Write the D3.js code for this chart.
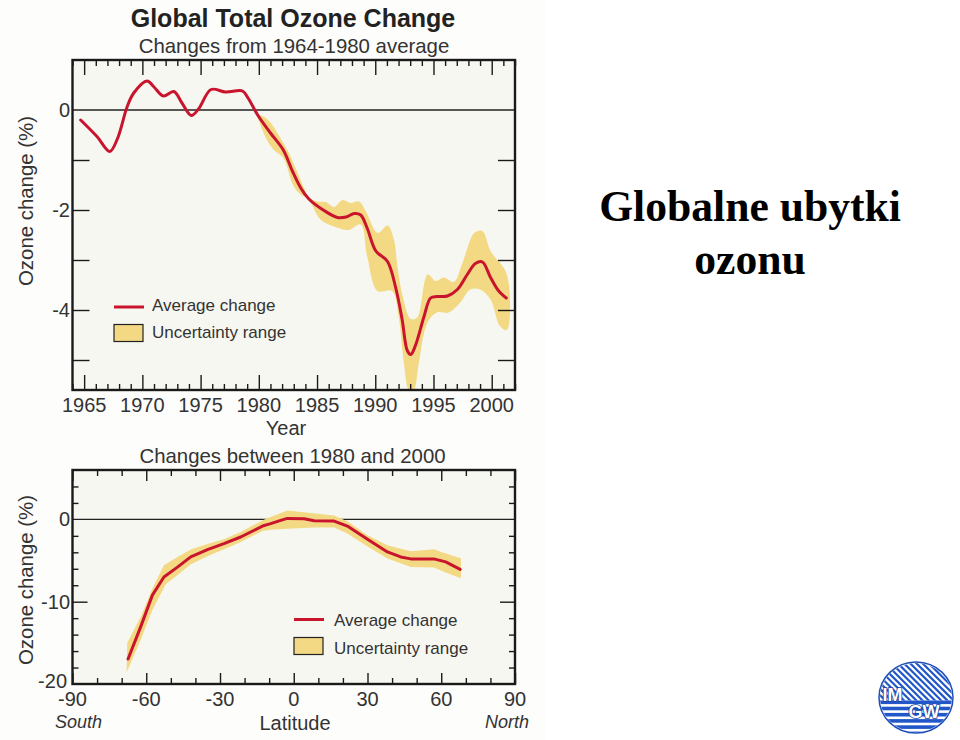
<!DOCTYPE html>
<html><head><meta charset="utf-8">
<script src="https://cdn.jsdelivr.net/npm/d3@7/dist/d3.min.js"></script>
<style>html,body{margin:0;padding:0;background:#fff}svg{display:block}text{font-family:"Liberation Sans",Arial,sans-serif}</style>
</head><body><svg id="c" width="960" height="740"></svg>
<script>
// Top panel: time series
const avgYears=[1964.7,1966.1,1967.2,1967.85,1968.7,1969.26,1970.4,1971,1971.8,1972.7,1973.4,1974.2,1974.85,1975.9,1977.15,1978.6,1979.1,1979.9,1981,1982.1,1982.9,1983.6,1984.3,1985.6,1986.75,1987.5,1988.2,1988.75,1989.3,1990.05,1991.05,1991.75,1992.3,1992.75,1993.05,1993.45,1994.2,1994.75,1995.3,1996.2,1997.05,1997.9,1998.6,1999.2,1999.9,2000.6,2001.25];
const avgChange=[-0.2,-0.53,-0.83,-0.58,0.07,0.34,0.58,0.46,0.28,0.37,0.14,-0.11,0.03,0.41,0.36,0.38,0.23,-0.1,-0.46,-0.8,-1.23,-1.56,-1.78,-2.01,-2.15,-2.14,-2.07,-2.1,-2.36,-2.82,-3.03,-3.55,-4.18,-4.81,-4.89,-4.71,-4.12,-3.76,-3.73,-3.72,-3.59,-3.29,-3.07,-3.04,-3.35,-3.62,-3.76];
const upperYears=[1979.9,1980.4,1981,1981.7,1982.45,1983.15,1983.85,1984.3,1985.05,1985.75,1986.45,1987.2,1987.9,1988.6,1989.2,1990.2,1991.05,1991.6,1991.9,1992.35,1993.05,1993.6,1994.5,1995.2,1995.9,1996.75,1997.5,1998.5,1999.2,1999.9,2001.3];
const upperChange=[-0.1,-0.13,-0.25,-0.5,-0.8,-1.16,-1.54,-1.75,-1.83,-1.84,-1.94,-1.8,-1.86,-1.83,-2.03,-2.46,-2.31,-2.59,-3.12,-3.72,-4.18,-4.15,-3.29,-3.42,-3.35,-3.44,-3.05,-2.46,-2.42,-2.82,-3.29];
const lowerYears=[1979.9,1980.7,1981.3,1982.1,1983,1983.6,1984.3,1985.3,1986.45,1987.7,1988.75,1989.3,1990.2,1991.45,1992,1992.45,1992.9,1993.3,1993.75,1994.5,1995.3,1996.3,1997.3,1998.15,1999,1999.9,2000.7,2001.3];
const lowerChange=[-0.15,-0.6,-0.8,-0.96,-1.53,-1.69,-1.8,-2.19,-2.33,-2.4,-2.29,-2.92,-3.62,-3.62,-4.12,-5.04,-5.6,-5.6,-5.04,-4.24,-4.05,-4.05,-3.85,-3.59,-3.59,-3.79,-4.32,-4.4];
const yearTicks=[1965,1970,1975,1980,1985,1990,1995,2000];
const topValueTicks=[0,-2,-4];
// Bottom panel: latitude profile
const avgLat=[-67.4,-62.2,-57.5,-52.8,-47.3,-41.9,-35.1,-28.4,-21.6,-12.7,-9.4,-5.3,-2.6,4.2,8.3,16.4,21.8,30,38.1,43.5,47.6,57,61.8,67.7];
const avgLatChange=[-16.97,-13,-9.2,-7,-5.8,-4.56,-3.67,-2.94,-2.14,-0.81,-0.52,-0.12,0.12,0.08,-0.16,-0.2,-0.81,-2.42,-3.95,-4.56,-4.8,-4.8,-5.16,-6.08];
const upperLat=[-67.7,-62.2,-57.5,-52.8,-47.3,-41.9,-35.1,-28.4,-21.6,-12.7,-9.4,-2.6,4.2,16.4,21.8,30,38.1,47.6,57,61.8,68];
const upperLatChange=[-15,-11.8,-8.4,-5.56,-4.56,-3.66,-3,-2.42,-1.53,-0.12,0.28,1.09,0.88,0.48,-0.24,-1.94,-3.14,-3.87,-3.63,-4.15,-4.72];
const lowerLat=[-68,-62.2,-57.5,-52,-47.3,-41.9,-35.1,-28.4,-21.6,-12.7,-9.4,-2.6,8.3,16.4,21.8,30,38.1,47.6,57,61.8,68];
const lowerLatChange=[-18.6,-14.6,-11,-7.86,-6.77,-5.44,-4.47,-3.63,-2.74,-1.41,-1.25,-1.13,-1,-1,-1.73,-3.3,-4.75,-5.77,-5.85,-6.45,-7.14];
const latTicks=[-90,-60,-30,0,30,60,90];
const bottomValueTicks=[0,-10,-20];
const legendLabels=["Average change","Uncertainty range"];

const RED="#c9142d",BAND="#f3d983",BG="#f7f7f1",INK="#333",FRAME="#1a1a1a";
const svg=d3.select("#c");
svg.append("rect").attr("width",960).attr("height",740).attr("fill","#fff");
svg.append("rect").attr("width",545).attr("height",740).attr("fill","#fdfdfb");

function txt(x,y,s,o={}){
  const t=svg.append("text").attr("x",x).attr("y",y).text(s)
    .attr("text-anchor",o.a||"middle").attr("font-size",o.fs||20).attr("fill",o.c||INK);
  if(o.w)t.attr("font-weight",o.w);
  if(o.i)t.attr("font-style","italic");
  if(o.f)t.style("font-family",o.f);
  if(o.r!=null)t.attr("transform",`rotate(${o.r} ${x} ${y})`);
  return t;
}
function range(a,b,s){return d3.range(a,b+s/2,s)}
function panel(cfg){
  const {id,x,y,xMinor,xMajor,xMajorLen,xMinorLen,yMinor,yMajor,yMajorLen,yMinorLen,curve}=cfg;
  const [l,r]=x.range(),[b,t]=y.range();
  const g=svg.append("g");
  g.append("rect").attr("x",l).attr("y",t).attr("width",r-l).attr("height",b-t).attr("fill",BG);
  const cp=`clip-${id}`;
  svg.append("clipPath").attr("id",cp).append("rect").attr("x",l).attr("y",t).attr("width",r-l).attr("height",b-t);
  const lineGen=d3.line().x(d=>x(d[0])).y(d=>y(d[1])).curve(curve);
  const upper=d3.zip(cfg.upX,cfg.upY), lower=d3.zip(cfg.loX,cfg.loY).reverse();
  g.append("line").attr("x1",l).attr("x2",r).attr("y1",y(0)).attr("y2",y(0)).attr("stroke","#222").attr("stroke-width",1.3);
  g.append("path").attr("clip-path",`url(#${cp})`).attr("d",lineGen(upper.concat(lower))+"Z").attr("fill",BAND);
  g.append("path").attr("d",lineGen(d3.zip(cfg.avgX,cfg.avgY))).attr("fill","none").attr("stroke",RED).attr("stroke-width",3).attr("stroke-linecap","round").attr("stroke-linejoin","round");
  const tick=(scale,vals,len,axisFn,offs)=>{
    const a=g.append("g").attr("transform",offs).call(axisFn(scale).tickValues(vals).tickSize(len).tickFormat(""));
    a.select(".domain").remove();
    a.selectAll("line").attr("stroke",FRAME).attr("stroke-width",1.4);
  };
  const minors=(all,maj)=>all.filter(v=>!maj.includes(v));
  tick(x,minors(xMinor,xMajor),xMinorLen,d3.axisBottom,`translate(0,${t})`);
  tick(x,xMajor,xMajorLen,d3.axisBottom,`translate(0,${t})`);
  tick(x,minors(xMinor,xMajor),xMinorLen,d3.axisTop,`translate(0,${b})`);
  tick(x,xMajor,xMajorLen,d3.axisTop,`translate(0,${b})`);
  tick(y,minors(yMinor,yMajor),yMinorLen,d3.axisRight,`translate(${l},0)`);
  tick(y,yMajor,yMajorLen,d3.axisRight,`translate(${l},0)`);
  tick(y,minors(yMinor,yMajor),yMinorLen,d3.axisLeft,`translate(${r},0)`);
  tick(y,yMajor,yMajorLen,d3.axisLeft,`translate(${r},0)`);
  g.append("rect").attr("x",l).attr("y",t).attr("width",r-l).attr("height",b-t).attr("fill","none").attr("stroke",FRAME).attr("stroke-width",2.4);
}
function legend(lx,ly1,ly2,tx,ty1,ty2){
  svg.append("line").attr("x1",lx).attr("x2",lx+30).attr("y1",ly1).attr("y2",ly1).attr("stroke",RED).attr("stroke-width",3);
  txt(tx,ty1,legendLabels[0],{a:"start",fs:17});
  svg.append("rect").attr("x",lx).attr("y",ly2-8.5).attr("width",29).attr("height",17).attr("fill",BAND).attr("stroke","#222").attr("stroke-width",1.2);
  txt(tx,ty2,legendLabels[1],{a:"start",fs:17});
}

// Titles
txt(293,27,"Global Total Ozone Change",{fs:25,w:"bold",c:"#222"});
txt(294,53,"Changes from 1964-1980 average",{fs:20.4});
txt(292.5,463,"Changes between 1980 and 2000",{fs:20.4});

// Top chart
const x1=d3.scaleLinear().domain([1964,2002]).range([72.5,515]);
const y1=d3.scaleLinear().domain([-5.6,1]).range([390,60]);
panel({id:"a",x:x1,y:y1,xMinor:d3.range(1964,2003),xMajor:yearTicks,xMajorLen:15,xMinorLen:6,
  yMinor:[-5,-4,-3,-2,-1],yMajor:[-5,-4,-3,-2,-1],yMajorLen:17,yMinorLen:17,curve:d3.curveCatmullRom.alpha(0.5),
  avgX:avgYears,avgY:avgChange,upX:upperYears,upY:upperChange,loX:lowerYears,loY:lowerChange});
yearTicks.forEach(v=>txt(x1(v),412,v));
topValueTicks.forEach(v=>txt(70,y1(v)+7,v,{a:"end"}));
txt(286,435,"Year");
txt(33,201,"Ozone change (%)",{fs:20.4,r:-90});
legend(114,307,333,152,311,338);

// Bottom chart
const x2=d3.scaleLinear().domain([-90,90]).range([72.5,515]);
const y2=d3.scaleLinear().domain([-20,6]).range([684,470]);
panel({id:"b",x:x2,y:y2,xMinor:d3.range(-90,91,10),xMajor:latTicks,xMajorLen:11,xMinorLen:6,
  yMinor:range(-18,4,2).filter(v=>v!==0),yMajor:[-10],yMajorLen:15,yMinorLen:6,curve:d3.curveLinear,
  avgX:avgLat,avgY:avgLatChange,upX:upperLat,upY:upperLatChange,loX:lowerLat,loY:lowerLatChange});
latTicks.forEach(v=>txt(x2(v),705.5,v));
bottomValueTicks.forEach(v=>txt(v===-20?67:70,(v===-20?y2(v)-3:y2(v))+7,v,{a:"end"}));
txt(295,730,"Latitude");
txt(78.5,727.5,"South",{fs:18,i:1});
txt(507,727.5,"North",{fs:18,i:1});
txt(33,580,"Ozone change (%)",{fs:20.4,r:-90});
legend(294,619.5,646,334,626,653.5);

// Slide caption
const serif='"Liberation Serif","Times New Roman",serif';
txt(750,220.5,"Globalne ubytki",{fs:43.6,w:"bold",c:"#000",f:serif});
txt(750,273.5,"ozonu",{fs:43.6,w:"bold",c:"#000",f:serif});

// Logo
const cx=916,cy=697.5;
const logo=svg.append("g");
svg.append("clipPath").attr("id","lg").append("ellipse").attr("cx",cx).attr("cy",cy).attr("rx",36).attr("ry",34.5);
logo.append("ellipse").attr("cx",cx).attr("cy",cy).attr("rx",37).attr("ry",35.5).attr("fill","#fff").attr("stroke","#1f4fb8").attr("stroke-width",1.5);
const stripes=logo.append("g").attr("clip-path","url(#lg)");
d3.range(-56,70,6.2).forEach(o=>stripes.append("line").attr("x1",cx+o-30).attr("y1",cy-40).attr("x2",cx+o+30).attr("y2",cy+20).attr("stroke","#2157c8").attr("stroke-width",2.2));
stripes.append("rect").attr("x",cx-40).attr("y",cy+3).attr("width",80).attr("height",40).attr("fill","#fff");
d3.range(cy+3,cy+36,6.2).forEach(v=>stripes.append("rect").attr("x",cx-40).attr("y",v).attr("width",80).attr("height",3.6).attr("fill","#2157c8"));
const mark=(x,y,s,fs)=>{logo.append("text").attr("x",x).attr("y",y).text(s).attr("text-anchor","middle").attr("font-size",fs).attr("font-weight","bold").attr("fill","#fff").attr("stroke","#16409f").attr("stroke-width",1.6).attr("paint-order","stroke")};
mark(892.5,701,"IM",18);
mark(924,718,"GW",18);
</script></body></html>
